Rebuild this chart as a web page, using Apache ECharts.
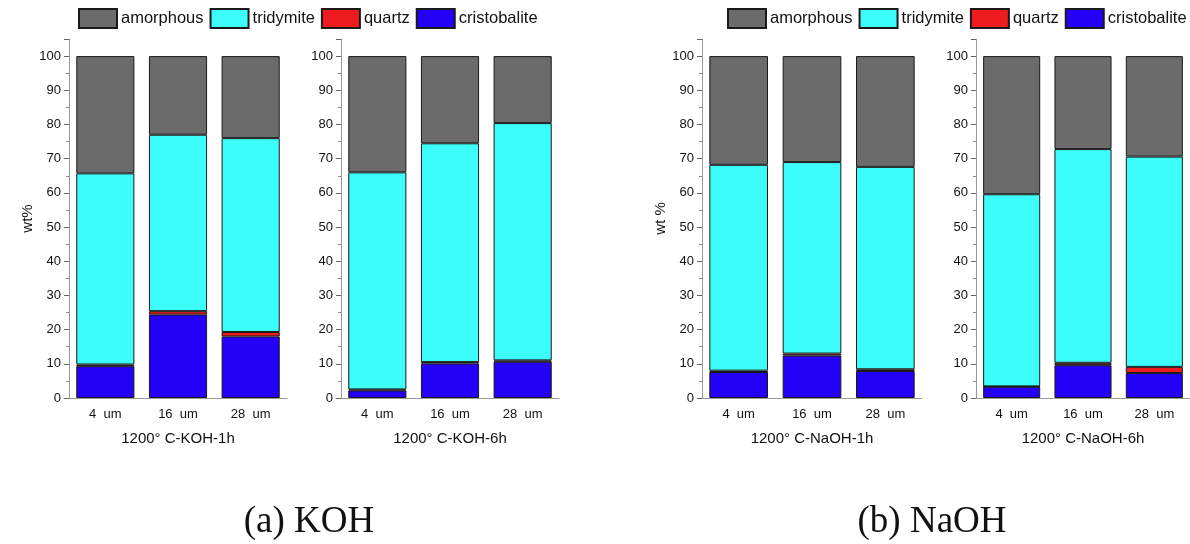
<!DOCTYPE html>
<html>
<head>
<meta charset="utf-8">
<script src="https://cdn.jsdelivr.net/npm/echarts@6/dist/echarts.min.js"></script>
<style>
  html, body { margin: 0; padding: 0; background: #fff; }
  #chart { width: 1190px; height: 544px; }
</style>
</head>
<body>
<div id="chart"></div>
<script>
// Particle sizes on each panel's category axis
const sizes = ['4  um', '16  um', '28  um'];
// Panel titles (treatment conditions)
const panels = ['1200° C-KOH-1h', '1200° C-KOH-6h', '1200° C-NaOH-1h', '1200° C-NaOH-6h'];
// Phase fractions in wt%, one row per panel, one value per particle size
const cristobalite = [[9.3, 24.4, 18.0], [2.2, 10.1, 10.6], [7.6, 12.4, 7.9], [3.3, 9.6, 7.3]];
const quartz       = [[0.5, 1.0, 1.3],   [0.3, 0.4, 0.4],   [0.4, 0.6, 0.5], [0.1, 0.7, 1.8]];
const tridymite    = [[55.9, 51.6, 56.7], [63.5, 64.0, 69.4], [60.2, 56.0, 59.2], [56.2, 62.5, 61.5]];
const amorphous    = [[34.3, 23.0, 24.0], [34.0, 25.5, 19.6], [31.8, 31.0, 32.4], [40.4, 27.2, 29.4]];
// Y-axis ticks
const yTicks = [0, 10, 20, 30, 40, 50, 60, 70, 80, 90, 100];
// Sub-figure captions
const captions = ['(a) KOH', '(b) NaOH'];

const phaseOrder = ['cristobalite', 'quartz', 'tridymite', 'amorphous'];
const phaseData = { cristobalite, quartz, tridymite, amorphous };
const phaseColor = {
  amorphous: '#6b6b6b',
  tridymite: '#3dfdfb',
  quartz: '#ee1c1f',
  cristobalite: '#2400f6'
};
const legendOrder = ['amorphous', 'tridymite', 'quartz', 'cristobalite'];

const gridLefts = [69, 341, 702, 976];
const gridWidths = [218, 218, 220, 218];
const yTitles = ['wt%', '', 'wt %', ''];
const font = 'Liberation Sans, Arial, sans-serif';

const grids = [], xAxes = [], yAxes = [], series = [];
panels.forEach((p, i) => {
  grids.push({ left: gridLefts[i], width: gridWidths[i], top: 39, height: 359 });
  // main category axis: labels, centre ticks and panel title
  xAxes.push({
    type: 'category', gridIndex: i, data: sizes,
    axisLine: { lineStyle: { color: '#999', width: 1 } },
    axisTick: { alignWithLabel: true, length: 5, lineStyle: { color: '#666' } },
    axisLabel: { color: '#111', fontSize: 13, fontFamily: font, margin: 10 },
    name: p, nameLocation: 'middle', nameGap: 33,
    nameTextStyle: { color: '#111', fontSize: 15, fontFamily: font }
  });
  // overlay axis for the short upward ticks at category boundaries
  xAxes.push({
    type: 'category', gridIndex: i, data: sizes, position: 'bottom',
    axisLine: { show: false },
    axisTick: { inside: true, length: 4, lineStyle: { color: '#666' } },
    axisLabel: { show: false }
  });
  yAxes.push({
    type: 'value', gridIndex: i, min: 0, max: 105, interval: 10,
    splitLine: { show: false },
    axisLine: { show: true, lineStyle: { color: '#999', width: 1 } },
    axisTick: { show: true, length: 5, lineStyle: { color: '#666' } },
    minorTick: { show: true, splitNumber: 2, length: 3, lineStyle: { color: '#888' } },
    axisLabel: {
      color: '#111', fontSize: 13, fontFamily: font, margin: 8,
      formatter: v => (yTicks.indexOf(v) >= 0 ? String(v) : '')
    },
    name: yTitles[i], nameLocation: 'middle', nameGap: 32, nameRotate: 90,
    nameTextStyle: { color: '#111', fontSize: 15, fontFamily: font }
  });
  phaseOrder.forEach(ph => {
    series.push({
      type: 'bar', name: ph, stack: 'panel' + i,
      xAxisIndex: i * 2, yAxisIndex: i,
      data: phaseData[ph][i], barWidth: '80%',
      itemStyle: { color: phaseColor[ph], borderColor: '#1a1a1a', borderWidth: 1 },
      emphasis: { disabled: true }
    });
  });
});

const legendCommon = {
  top: 8, orient: 'horizontal', data: legendOrder, icon: 'rect',
  width: 480, padding: 0,
  itemWidth: 38, itemHeight: 19, itemGap: 6,
  textStyle: { color: '#111', fontSize: 16.5, fontFamily: font, padding: [0, 0, 0, -1] },
  selectedMode: false
};

const chart = echarts.init(document.getElementById('chart'));
chart.setOption({
  animation: false,
  backgroundColor: '#fff',
  legend: [
    Object.assign({ left: 78 }, legendCommon),
    Object.assign({ left: 727 }, legendCommon)
  ],
  grid: grids,
  xAxis: xAxes,
  yAxis: yAxes,
  series: series,
  graphic: captions.map((c, k) => ({
    type: 'text', x: k === 0 ? 309 : 932, y: 522,
    style: {
      text: c, fill: '#111', fontSize: 37, align: 'center', verticalAlign: 'middle',
      fontFamily: 'Liberation Serif, DejaVu Serif, serif'
    }
  }))
});
</script>
</body>
</html>
